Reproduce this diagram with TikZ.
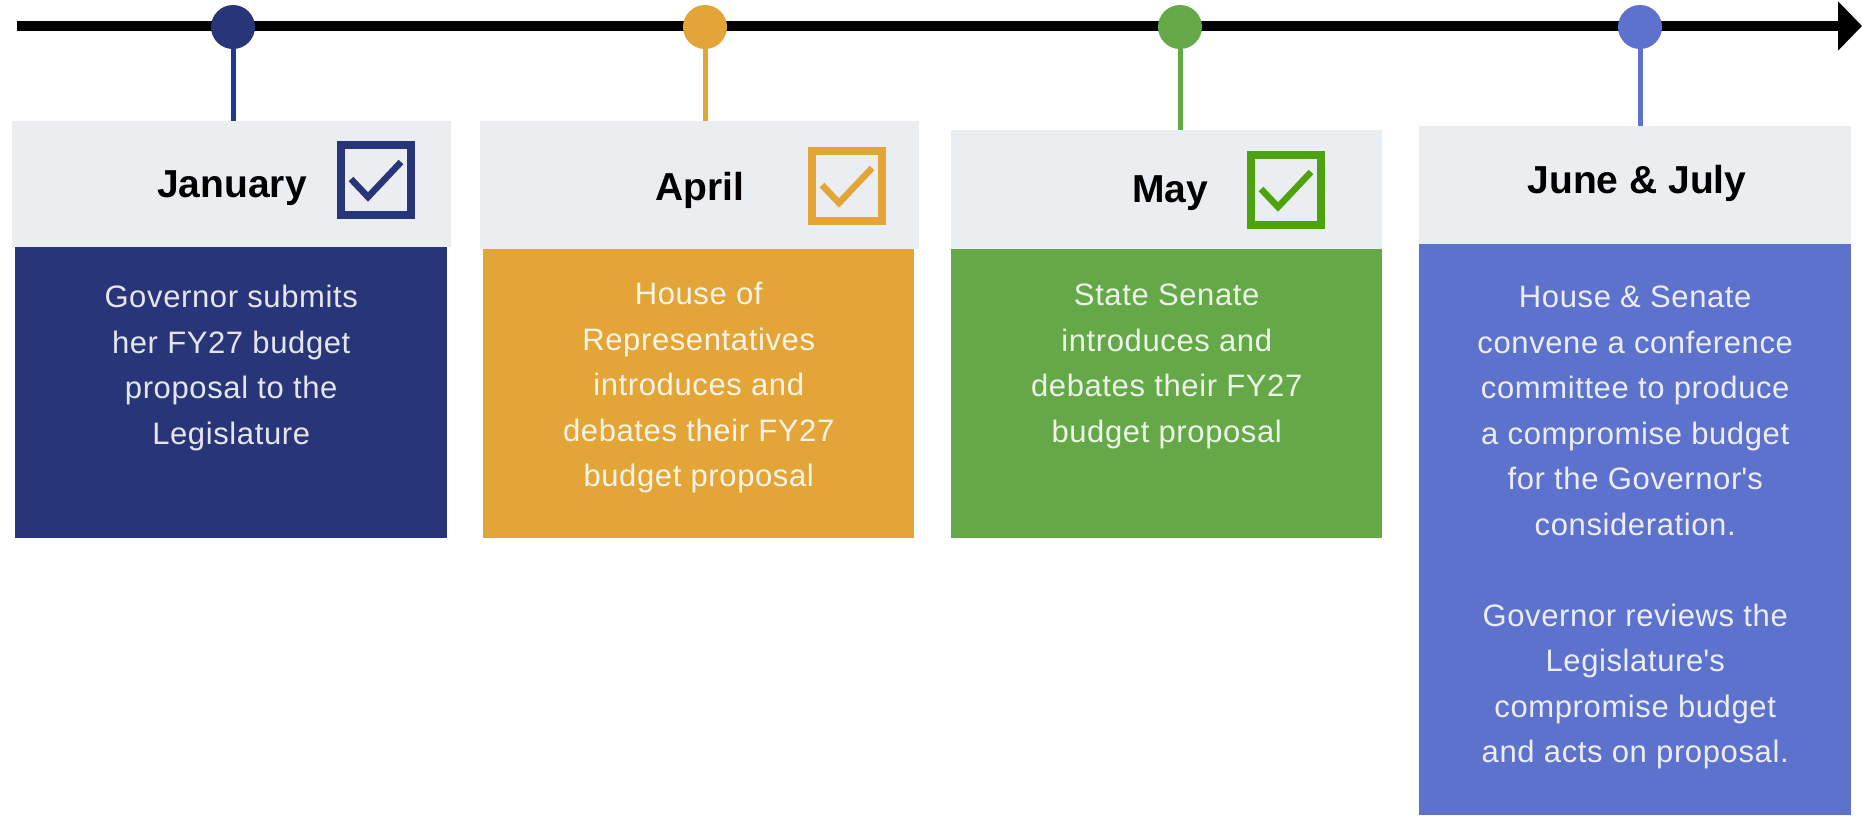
\documentclass[tikz,border=0pt]{standalone}
\usepackage{fontspec}
\setmainfont{Liberation Sans}
\newfontfamily\bodyfont[LetterSpace=2]{Liberation Sans}
\usetikzlibrary{positioning,arrows.meta}

\definecolor{navy}{HTML}{283679}
\definecolor{navystem}{HTML}{1E3A8E}
\definecolor{gold}{HTML}{E3A537}
\definecolor{leaf}{HTML}{65A847}
\definecolor{leafcheck}{HTML}{4DA20F}
\definecolor{iris}{HTML}{5C72CC}
\definecolor{headgray}{HTML}{EBEEF1}

\tikzset{
  headbox/.style={fill=headgray, anchor=north west, inner sep=0},
  bodybox/.style={anchor=north west, inner sep=0},
  bodytext/.style={text=white, text opacity=0.88, align=center, inner sep=0,
    font=\bodyfont\fontsize{31}{45.5}\selectfont},
  month/.style={anchor=base, inner sep=0, font=\bfseries\fontsize{39}{39}\selectfont},
  tickbox/.style={draw, line width=8pt, minimum size=70pt, inner sep=0},
  dot/.style={circle, minimum size=44pt, inner sep=0},
}

\begin{document}
\begin{tikzpicture}[x=1pt,y=-1pt]
\useasboundingbox (0,0) rectangle (1862,815);

\coordinate (start) at (17,26);
\coordinate (end) at (1862,26);
\draw[line width=9.5pt, -{Triangle[length=24pt,width=48pt]}] (start) -- (end);

\node[headbox, minimum width=439pt, minimum height=126pt] (jan-head) at (12,121) {};
\node[headbox, minimum width=439pt, minimum height=128pt] (apr-head) at (480,121) {};
\node[headbox, minimum width=431pt, minimum height=119pt] (may-head) at (951,130) {};
\node[headbox, minimum width=432pt, minimum height=118pt] (jun-head) at (1419,126) {};

\node[bodybox, fill=navy, minimum width=432pt, minimum height=291pt] (jan-body) at (15,247) {};
\node[bodybox, fill=gold, minimum width=431pt, minimum height=289pt] (apr-body) at (483,249) {};
\node[bodybox, fill=leaf, minimum width=431pt, minimum height=289pt] (may-body) at (951,249) {};
\node[bodybox, fill=iris, minimum width=432pt, minimum height=571pt] (jun-body) at (1419,244) {};

\foreach \n/\x/\c/\s in {jan/233/navy/navystem, apr/705/gold/gold, may/1180/leaf/leaf, jun/1640/iris/iris}
{
	\node[dot, fill=\c] (\n-dot) at (\x,27) {};
	\draw[\s, line width=5pt] (\n-dot.south) -- (\n-dot.south |- \n-head.north);
}

\foreach \n/\x/\y/\c in {jan/376/180/navy, apr/847/186/gold, may/1286/190/leafcheck}
{
	\node[tickbox, draw=\c] (\n-tick) at (\x,\y) {};
	\draw[\c, line width=6.5pt] (\n-tick.center) ++(-25,-1) -- ++(17,18) -- ++(33,-35);
}

\node[month] (jan-label) at (232,197) {January};
\node[month] (apr-label) at (700,200) {April};
\node[month] (may-label) at (1170,202) {May};
\node[month] (jun-label) at (1637,193) {June \& July};

\node[bodytext, below=38pt of jan-body.north] (jan-text)
	{Governor submits\\her FY27 budget\\proposal to the\\Legislature};
\node[bodytext, below=33pt of apr-body.north] (apr-text)
	{House of\\Representatives\\introduces and\\debates their FY27\\budget proposal};
\node[bodytext, below=35pt of may-body.north] (may-text)
	{State Senate\\introduces and\\debates their FY27\\budget proposal};
\node[bodytext, below=42pt of jun-body.north] (jun-text)
	{House \& Senate\\convene a conference\\committee to produce\\a compromise budget\\for the Governor\textquotesingle s\\consideration.\\[45.5pt]Governor reviews the\\Legislature\textquotesingle s\\compromise budget\\and acts on proposal.};
\end{tikzpicture}
\end{document}
